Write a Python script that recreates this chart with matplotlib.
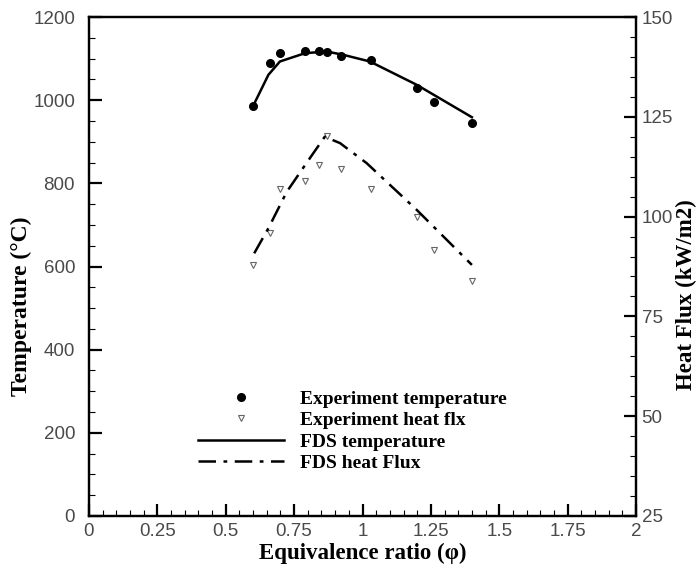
#!/usr/bin/env python3
import numpy as np
import matplotlib
matplotlib.use('Agg')
import matplotlib.pyplot as plt
from matplotlib.ticker import MultipleLocator

# experiment points
exp_phi = [0.60, 0.66, 0.70, 0.79, 0.84, 0.87, 0.92, 1.03, 1.20, 1.26, 1.40]
exp_temp = [986, 1089, 1114, 1118, 1118, 1117, 1107, 1097, 1029, 996, 944]
exp_flux = [87.8, 96.0, 106.9, 108.9, 112.9, 120.1, 111.9, 106.9, 99.8, 91.7, 83.8]

# FDS model curves
fds_t_phi = [0.60, 0.656, 0.698, 0.79, 0.869, 0.93, 1.027, 1.198, 1.40]
fds_temp = [986, 1061, 1093, 1113, 1117, 1109, 1093, 1037, 959]
fds_f_phi = [0.604, 0.656, 0.723, 0.795, 0.862, 0.918, 1.015, 1.198, 1.40]
fds_flux = [90.8, 97.1, 106.2, 113.4, 120.0, 118.4, 113.4, 101.7, 87.9]

serif = ['Liberation Serif', 'DejaVu Serif']
sans = ['Liberation Sans', 'DejaVu Sans']

W, H = 698, 574


def style_axis(ax):
    for s in ax.spines.values():
        s.set_linewidth(1.6)
    ax.tick_params(which='major', direction='in', length=9, width=1.6,
                   labelsize=13.5, labelcolor='#4a4a4a')
    ax.tick_params(which='minor', direction='in', length=4, width=0.8)
    for lab in ax.get_xticklabels() + ax.get_yticklabels():
        lab.set_family(sans)


def main():
    fig = plt.figure(figsize=(W / 100, H / 100), dpi=100)
    ax = fig.add_axes([89 / W, 1 - 516 / H, 547 / W, 499 / H])
    ax2 = ax.twinx()

    ax.set_xlim(0, 2)
    ax.set_ylim(0, 1200)
    ax2.set_ylim(25, 150)
    ax.xaxis.set_minor_locator(MultipleLocator(0.05))
    ax.yaxis.set_major_locator(MultipleLocator(200))
    ax.yaxis.set_minor_locator(MultipleLocator(50))
    ax2.yaxis.set_major_locator(MultipleLocator(25))
    ax2.yaxis.set_minor_locator(MultipleLocator(5))
    ax.set_xticks(np.arange(0, 2.01, 0.25))
    ax.set_xticklabels(['0', '0.25', '0.5', '0.75', '1', '1.25', '1.5', '1.75', '2'])

    h1, = ax.plot(exp_phi, exp_temp, 'o', color='black', ms=5.5, ls='none',
                  label='Experiment temperature')
    h2, = ax2.plot(exp_phi, exp_flux, 'v', mfc='white', mec='#666666', ms=5,
                   mew=0.8, ls='none', label='Experiment heat flx')
    h3, = ax.plot(fds_t_phi, fds_temp, '-', color='black', lw=1.8,
                  label='FDS temperature')
    h4, = ax2.plot(fds_f_phi, fds_flux, color='black', lw=1.8,
                   dashes=(7, 3, 1.5, 3), label='FDS heat Flux')

    style_axis(ax)
    style_axis(ax2)
    ax.tick_params(axis='y', which='major', pad=10)
    ax.tick_params(axis='x', which='major', pad=5)
    ax2.tick_params(axis='y', which='major', pad=4)

    ax.set_xlabel('Equivalence ratio (\u03c6)', family=serif, fontsize=16.5,
                  fontweight='bold', va='center')
    ax.xaxis.set_label_coords(0.5, -(553 - 516) / 499, transform=ax.transAxes)
    ax.set_ylabel('Temperature (\u00b0C)', family=serif, fontsize=17,
                  fontweight='bold', va='center')
    ax.yaxis.set_label_coords((21 - 89) / 547, (516 - 306) / 499)
    ax2.set_ylabel('Heat Flux (kW/m2)', family=serif, fontsize=16.5,
                   fontweight='bold', va='center')
    ax2.yaxis.set_label_coords((686 - 89) / 547, (516 - 295) / 499)

    ax.legend(handles=[h1, h2, h3, h4], loc='center left',
              bbox_to_anchor=(0.168, 0.17), frameon=False,
              prop={'family': serif, 'weight': 'bold', 'size': 14},
              handlelength=4.4, labelspacing=0.2, handletextpad=0.8)

    fig.savefig('out.png', dpi=100)


if __name__ == '__main__':
    main()
